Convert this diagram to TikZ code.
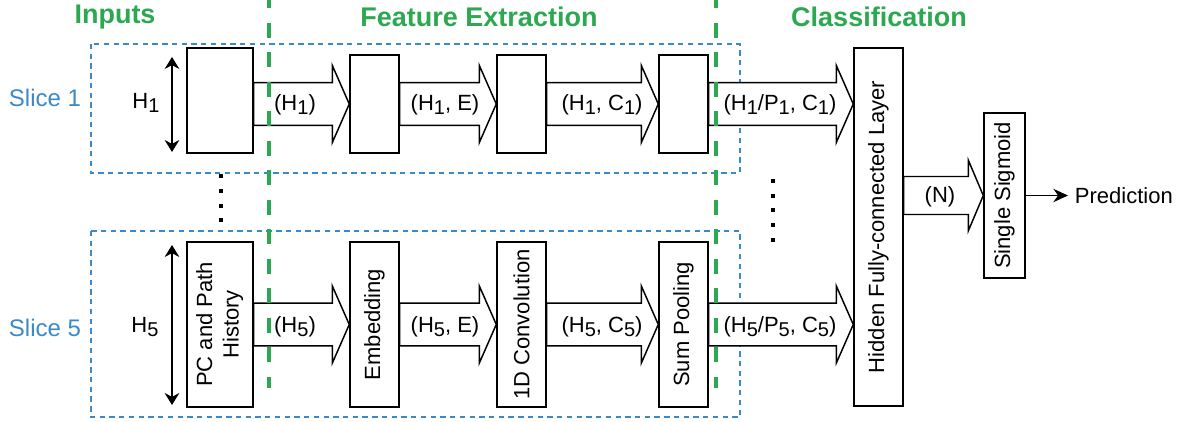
\documentclass[tikz,border=0pt]{standalone}
\usepackage{fontspec}
\setmainfont{Liberation Sans}
\usepackage{graphicx}
\usetikzlibrary{calc,arrows.meta}

\definecolor{sectiongreen}{RGB}{44,168,80}
\definecolor{sliceblue}{RGB}{58,137,201}

% lowered index digit, as in H_1
\newcommand{\lowsub}[1]{\raisebox{-3pt}{\fontsize{15pt}{17pt}\selectfont #1}}
% text running bottom to top inside a tall box
\newcommand{\upright}[1]{\rotatebox{90}{#1}}

% wide hollow arrow: #1 from, #2 to, #3 node fixing its height,
% #4 half shaft, #5 half head, #6 head length
\newcommand{\flowarrow}[6]{%
  \draw[flowbody] let \p1=(#1.east), \p2=(#2.west), \p3=(#3.center) in
    (\x1,\y3+#4) -- (\x2-#6,\y3+#4) -- (\x2-#6,\y3+#5) -- (\x2,\y3)
    -- (\x2-#6,\y3-#5) -- (\x2-#6,\y3-#4) -- (\x1,\y3-#4) -- cycle;}

\begin{document}
\begin{tikzpicture}[x=0.75pt,y=-0.75pt,
  box/.style={draw, line width=1.1pt, inner sep=0pt, fill=white,
    font=\fontsize{16.5pt}{20pt}\selectfont},
  flowbody/.style={draw, line width=1.1pt, fill=white, line join=miter},
  lbl/.style={font=\fontsize{16.5pt}{20pt}\selectfont, inner sep=0pt},
  sectiontitle/.style={font=\fontsize{20.25pt}{24pt}\selectfont\bfseries, text=sectiongreen},
  slicetag/.style={font=\fontsize{18pt}{21pt}\selectfont, text=sliceblue},
  region/.style={draw=sliceblue, line width=1.1pt, dash pattern=on 4pt off 3.3pt},
  divider/.style={draw=sectiongreen, line width=3pt, dash pattern=on 11.25pt off 10.9pt},
  dimline/.style={line width=1.1pt,
    {Stealth[length=9pt,width=11pt]}-{Stealth[length=9pt,width=11pt]}}
]
\useasboundingbox (0,0) rectangle (1184,421);

% slice regions
\draw[region] (91,44) rectangle (740,173);
\draw[region] (91,231) rectangle (740,417);

% section titles
\node[sectiontitle] (tin) at (115,17) {Inputs};
\node[sectiontitle] (tfe) at (479,17) {Feature Extraction};
\node[sectiontitle] (tcl) at (879,17) {Classification};

% slice names
\node[slicetag] (s1) at (45,98) {Slice 1};
\node[slicetag] (s5) at (45,328) {Slice 5};

% slice 1 blocks
\node[box, minimum width=49.5pt, minimum height=78.75pt] (in1) at (220,100.5) {};
\node[box, minimum width=36.75pt, minimum height=73.5pt] (em1) at (374.5,104) {};
\node[box, minimum width=36.75pt, minimum height=73.5pt] (cv1) at (521.5,104) {};
\node[box, minimum width=36.75pt, minimum height=73.5pt] (pl1) at (683.5,104) {};

% slice 5 blocks
\node[box, minimum width=49.5pt, minimum height=123.75pt] (in5) at (220,324.5)
  {\upright{\begin{tabular}{@{}c@{}}PC and Path\\History\end{tabular}}};
\node[box, minimum width=36.75pt, minimum height=123.75pt] (em5) at (374.5,324.5) {\upright{Embedding}};
\node[box, minimum width=36.75pt, minimum height=123.75pt] (cv5) at (521.5,324.5) {\upright{1D Convolution}};
\node[box, minimum width=36.75pt, minimum height=123.75pt] (pl5) at (683.5,324.5) {\upright{Sum Pooling}};

% classification blocks
\node[box, minimum width=36.75pt, minimum height=268.5pt] (fc) at (878.5,227)
  {\upright{Hidden Fully-connected Layer}};
\node[box, minimum width=30.75pt, minimum height=123.75pt] (sg) at (1004.5,195.5)
  {\upright{Single Sigmoid}};

% data flow, slice 1
\flowarrow{in1}{em1}{em1}{16pt}{29pt}{12.75pt}
\flowarrow{em1}{cv1}{cv1}{16pt}{29pt}{12.75pt}
\flowarrow{cv1}{pl1}{pl1}{16pt}{29pt}{12.75pt}
\flowarrow{pl1}{fc}{pl1}{16pt}{29pt}{12.75pt}
% data flow, slice 5
\flowarrow{in5}{em5}{em5}{16pt}{29pt}{12.75pt}
\flowarrow{em5}{cv5}{cv5}{16pt}{29pt}{12.75pt}
\flowarrow{cv5}{pl5}{pl5}{16pt}{29pt}{12.75pt}
\flowarrow{pl5}{fc}{pl5}{16pt}{29pt}{12.75pt}
% to the output unit
\flowarrow{fc}{sg}{sg}{14.25pt}{26.6pt}{11.25pt}

% tensor shapes
\node[lbl] (a11) at (295,105) {(H\lowsub{1})};
\node[lbl] (a12) at (445,105) {(H\lowsub{1}, E)};
\node[lbl] (a13) at (602,105) {(H\lowsub{1}, C\lowsub{1})};
\node[lbl] (a14) at (780,105) {(H\lowsub{1}/P\lowsub{1}, C\lowsub{1})};
\node[lbl] (a51) at (295,327) {(H\lowsub{5})};
\node[lbl] (a52) at (445,327) {(H\lowsub{5}, E)};
\node[lbl] (a53) at (602,327) {(H\lowsub{5}, C\lowsub{5})};
\node[lbl] (a54) at (780,327) {(H\lowsub{5}/P\lowsub{5}, C\lowsub{5})};
\node[lbl] (an) at (940,197) {(N)};

% history lengths
\coordinate (d1a) at (172,57);
\coordinate (d1b) at (172,152);
\coordinate (d5a) at (172,245);
\coordinate (d5b) at (172,405);
\draw[dimline] (d1a) -- (d1b);
\draw[dimline] (d5a) -- (d5b);
\node[lbl] (h1) at (146,103) {H\lowsub{1}};
\node[lbl] (h5) at (145,327) {H\lowsub{5}};

% output
\node[lbl, anchor=west, inner sep=5pt] (pred) at (1068,195.5) {Prediction};
\draw[line width=1.1pt, -{Stealth[length=11pt,width=10pt]}] (sg.east) -- (sg.east -| pred.west);

% omitted slices
\foreach \yy in {176,191,206,220} \fill (218.7,\yy-2.2) rectangle ++(4.5,4.5);
\foreach \yy in {181,196,210,225,240} \fill (770.7,\yy-2.2) rectangle ++(4.5,4.5);

% stage boundaries
\draw[divider] (269,-7) -- (269,388);
\draw[divider] (716,-7) -- (716,388);
\end{tikzpicture}
\end{document}
